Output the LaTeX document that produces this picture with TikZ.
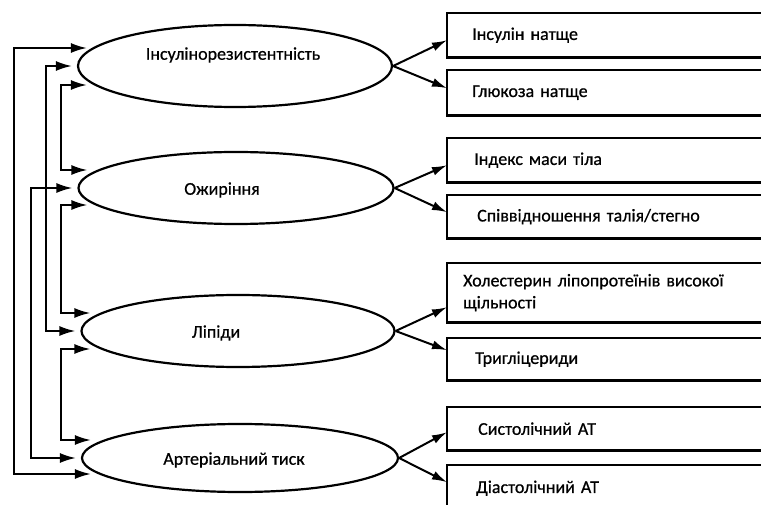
\documentclass[tikz,border=0pt]{standalone}
\usepackage{fontspec}
\setmainfont{Carlito}[FakeBold=0.7]
\usetikzlibrary{arrows.meta,shapes.geometric}
\begin{document}
\begin{tikzpicture}[x=1pt,y=-1pt,
  every node/.style={font=\fontsize{18pt}{22pt}\selectfont},
  oval/.style={draw,ellipse,line width=2.2pt,inner sep=0pt},
  box/.style={anchor=north west,text width=330pt,align=left,inner xsep=25pt,inner ysep=0pt},
  boxline/.style={line width=2.4pt},
  link/.style={line width=2pt,{Latex[length=16pt,width=10pt]}-{Latex[length=16pt,width=10pt]}},
  outarrow/.style={line width=2pt,-{Latex[length=15pt,width=9pt]}}]
\useasboundingbox (0,0) rectangle (761,505);
\clip (0,0) rectangle (761,505);
\fill[white] (0,0) rectangle (761,505);
% ellipses
\node[oval,minimum width=314pt,minimum height=82pt,label={[name=t1,xshift=-2pt,yshift=11pt]center:Інсулінорезистентність}] (e1) at (235,66) {};
\node[oval,minimum width=315pt,minimum height=72pt,label={[name=t2,xshift=-14pt,yshift=-2pt]center:Ожиріння}] (e2) at (236,188) {};
\node[oval,minimum width=313pt,minimum height=72pt,label={[name=t3,xshift=-22pt,yshift=-2pt]center:Ліпіди}] (e3) at (238,331) {};
\node[oval,minimum width=316pt,minimum height=68pt,label={[name=t4,xshift=-6pt,yshift=-2pt]center:Артеріальний тиск}] (e4) at (240,458) {};
% boxes (they run past the right edge)
\node[box,minimum height=44pt] (b1) at (447,13) {Інсулін натще};
\node[box,minimum height=45pt] (b2) at (447,70) {Глюкоза натще};
\node[box,minimum height=44pt] (b3) at (447,138) {\hspace*{2pt}Індекс маси тіла};
\node[box,minimum height=43pt] (b4) at (447,195) {\hspace*{5pt}Співвідношення талія/стегно};
\node[box,minimum height=59pt,inner xsep=16pt,text width=348pt] (b5) at (447,263) {Холестерин ліпопротеїнів високої\\щільності};
\node[box,minimum height=42pt] (b6) at (447,338) {\hspace*{3pt}Тригліцериди};
\node[box,minimum height=43pt] (b7) at (447,407) {\hspace*{6pt}Систолічний АТ};
\node[box,minimum height=46pt] (b8) at (447,465) {\hspace*{4pt}Діастолічний АТ};
\foreach \b in {b1,b2,b3,b4,b5,b6,b7,b8}
  \draw[boxline] (\b.north east) -- (\b.north west) -- (\b.south west) -- (\b.south east);
% right arrows
\draw[outarrow] (e1.east) -- ([yshift=-5pt]b1.west);
\draw[outarrow] (e1.east) -- ([yshift=4.5pt]b2.west);
\draw[outarrow] (e2.east) -- ([yshift=-5pt]b3.west);
\draw[outarrow] (e2.east) -- ([yshift=4.5pt]b4.west);
\draw[outarrow] (e3.east) -- ([yshift=-14.5pt]b5.west);
\draw[outarrow] (e3.east) -- ([yshift=9pt]b6.west);
\draw[outarrow] (e4.east) -- ([yshift=-3.5pt]b7.west);
\draw[outarrow] (e4.east) -- ([yshift=6pt]b8.west);
% left feedback connectors
\coordinate (xA) at (14,0);
\coordinate (xD) at (31,0);
\coordinate (xB) at (46,0);
\coordinate (xC) at (61,0);
% A: e1 upper <-> e4 lower
\draw[link] ([xshift=10pt,yshift=18pt]e1.west) -- ([yshift=18pt]e1.west -| xA) -- ([yshift=-16pt]e4.west -| xA) -- ([xshift=10pt,yshift=-16pt]e4.west);
% B: e1 middle <-> e3 middle
\draw[link] ([xshift=-5pt]e1.west) -- (e1.west -| xB) -- (e3.west -| xB) -- ([xshift=-5pt]e3.west);
% C: e1 lower <-> e2 upper
\draw[link] ([xshift=10pt,yshift=-19pt]e1.west) -- ([yshift=-19pt]e1.west -| xC) -- ([yshift=18pt]e2.west -| xC) -- ([xshift=10pt,yshift=18pt]e2.west);
% D: e2 middle <-> e4 middle
\draw[link] ([xshift=-5pt]e2.west) -- (e2.west -| xD) -- (e4.west -| xD) -- ([xshift=-5pt]e4.west);
% E: e2 lower <-> e3 upper
\draw[link] ([xshift=10pt,yshift=-17pt]e2.west) -- ([yshift=-17pt]e2.west -| xC) -- ([yshift=18pt]e3.west -| xC) -- ([xshift=10pt,yshift=18pt]e3.west);
% F: e3 lower <-> e4 upper
\draw[link] ([xshift=10pt,yshift=-18pt]e3.west) -- ([yshift=-18pt]e3.west -| xC) -- ([yshift=18pt]e4.west -| xC) -- ([xshift=10pt,yshift=18pt]e4.west);
\end{tikzpicture}
\end{document}
